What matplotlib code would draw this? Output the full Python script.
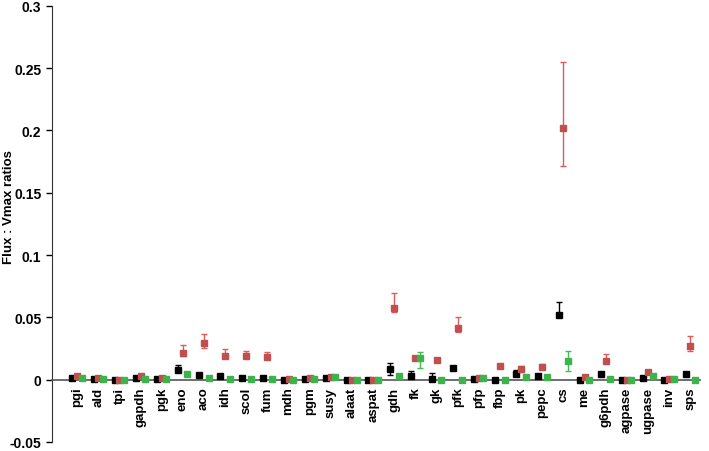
import numpy as np
import matplotlib.pyplot as plt

plt.rcParams['font.family'] = ['Liberation Sans', 'DejaVu Sans']

enzymes = ['pgi', 'ald', 'tpi', 'gapdh', 'pgk', 'eno', 'aco', 'idh', 'scol', 'fum',
           'mdh', 'pgm', 'susy', 'alaat', 'aspat', 'gdh', 'fk', 'gk', 'pfk', 'pfp',
           'fbp', 'pk', 'pepc', 'cs', 'me', 'g6pdh', 'agpase', 'ugpase', 'inv', 'sps']

# black series
black = [0.001, 0.0005, 0.0, 0.0015, 0.0005, 0.008, 0.004, 0.0027, 0.0015, 0.0015,
         0.0, 0.0007, 0.0012, 0.0, 0.0, 0.0086, 0.0032, 0.0005, 0.0096, 0.0008,
         0.0, 0.0048, 0.0032, 0.052, 0.0, 0.0046, 0.0, 0.0011, 0.0, 0.0043]
black_lo = [0, 0, 0, 0, 0, 0, 0, 0, 0, 0,
            0, 0, 0, 0, 0, 0.0048, 0, 0, 0, 0,
            0, 0, 0, 0, 0, 0, 0, 0, 0, 0]
black_hi = [0, 0, 0, 0, 0, 0.004, 0, 0, 0, 0,
            0, 0, 0, 0, 0, 0.0048, 0.004, 0.0045, 0, 0,
            0, 0.003, 0, 0.010, 0, 0, 0, 0, 0, 0]

# red series
red = [0.003, 0.001, 0.0, 0.003, 0.0015, 0.0212, 0.0295, 0.0193, 0.019, 0.018,
       0.0002, 0.0015, 0.0025, 0.0, 0.0, 0.0575, 0.0174, 0.0158, 0.0412, 0.0012,
       0.0107, 0.0083, 0.0105, 0.202, 0.002, 0.0153, 0.0, 0.006, 0.0008, 0.0273]
red_lo = [0, 0, 0, 0, 0, 0.0024, 0.0041, 0.0019, 0.002, 0.001,
          0, 0, 0, 0, 0, 0.0035, 0, 0, 0.0032, 0,
          0, 0.0023, 0.0015, 0.0305, 0, 0.0023, 0, 0, 0, 0.004]
red_hi = [0, 0, 0, 0, 0, 0.0066, 0.0075, 0.0056, 0.0043, 0.004,
          0, 0, 0, 0, 0, 0.0121, 0, 0, 0.0094, 0,
          0, 0.0029, 0.0021, 0.053, 0, 0.0056, 0, 0, 0, 0.0075]

# green series
green = [0.001, 0.0005, 0.0, 0.0005, 0.0005, 0.0043, 0.0014, 0.0008, 0.0008, 0.0008,
         0.0, 0.0007, 0.002, 0.0, 0.0, 0.0032, 0.0172, 0.0, 0.0, 0.0012,
         0.0, 0.0022, 0.0022, 0.0153, 0.0, 0.0008, 0.0, 0.0027, 0.0008, 0.0]
green_lo = [0] * 16 + [0.0081] + [0] * 6 + [0.0081] + [0] * 6
green_hi = [0] * 16 + [0.0053] + [0] * 6 + [0.0077] + [0] * 6

x = np.arange(1, len(enzymes) + 1)
off = 0.22

fig = plt.figure(figsize=(7.09, 4.52), dpi=100)
ax = fig.add_axes([0.073, 0.02, 0.914, 0.965])

# spines first: moving a spine resets the tick objects
ax.spines['top'].set_visible(False)
ax.spines['right'].set_visible(False)
ax.spines['bottom'].set_position(('data', 0))
ax.spines['bottom'].set_color('#555555')
ax.spines['bottom'].set_linewidth(1.2)
ax.spines['left'].set_color('#333333')

series = [
    (x - off, black, black_lo, black_hi, 'black', 'black', 3),
    (x, red, red_lo, red_hi, '#c0504d', '#e05a5a', 3),
    (x + off, green, green_lo, green_hi, '#3cb44b', '#45bb55', 4),
]
for xs, ys, lo, hi, mc, ec, z in series:
    ax.errorbar(xs, ys, yerr=[lo, hi], fmt='s', color=mc, mfc=mc, mec=mc,
                ecolor=ec, elinewidth=1, capsize=2.5, capthick=1,
                markersize=4.5, zorder=z)

ax.set_xlim(-0.2, 30.45)
ax.set_ylim(-0.05, 0.3)
ax.set_yticks([-0.05, 0, 0.05, 0.1, 0.15, 0.2, 0.25, 0.3])
ax.set_yticklabels(['-0.05', '0', '0.05', '0.1', '0.15', '0.2', '0.25', '0.3'],
                   fontsize=10, fontweight='bold')
ax.set_xticks(x)
ax.set_xticklabels(enzymes, rotation=90, va='top', ha='center',
                   fontsize=9.5, fontweight='bold')
ax.tick_params(axis='x', length=0, pad=5)
ax.tick_params(axis='y', length=4, width=1, direction='out')

ax.set_ylabel('Flux : Vmax ratios', fontsize=9.5, fontweight='bold')
ax.yaxis.set_label_coords(-0.056, 0.54)

fig.savefig('out.png', dpi=100)
